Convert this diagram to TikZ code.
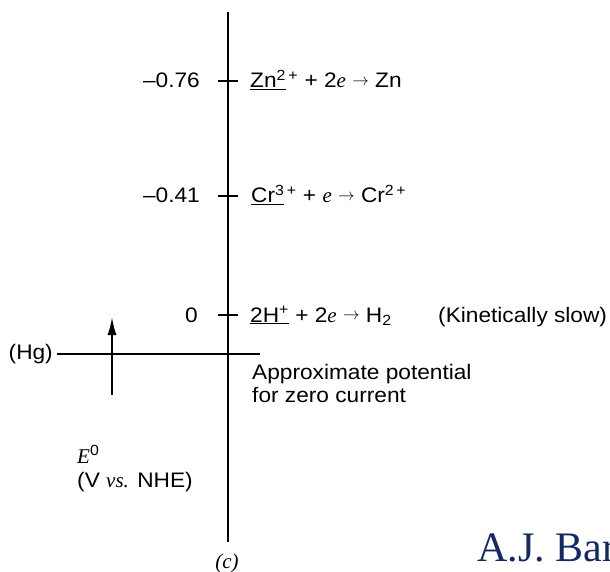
\documentclass[tikz,border=0pt]{standalone}
\usepackage{graphicx}
\usepackage{fontspec}
\setmainfont{Liberation Sans}[FakeStretch=1.08]
\newfontfamily\tms{Liberation Serif}
\usetikzlibrary{arrows.meta}
\definecolor{navy}{RGB}{20,40,100}
\newcommand\rarr{\raisebox{0.2ex}{\scalebox{0.8}{$\rightarrow$}}}
\newcommand\ital[1]{{\tms\itshape #1}}
\begin{document}
\begin{tikzpicture}[x=1pt,y=-1pt,
  lab/.style={inner sep=0pt, font=\fontsize{21}{25}\selectfont},
  axisline/.style={line width=2pt},
  tick/.style={line width=1.5pt}]
\useasboundingbox[fill=white] (0,0) rectangle (610,572);
% axis
\coordinate (top) at (228,12);
\coordinate (bot) at (228,542);
\draw[axisline] (top) -- (bot);
% ticks
\foreach \yy in {81,196,315} \draw[tick] (218,\yy) -- (238,\yy);
% value labels
\node[lab, anchor=base east] (v1) at (200,88) {–0.76};
\node[lab, anchor=base east] (v2) at (200,203) {–0.41};
\node[lab, anchor=base east] (v3) at (198,322) {0};
% reactions
\node[lab, anchor=base west] (r1) at (250,88) {\underline{Zn\textsuperscript{2}}\textsuperscript{\,+} + 2\ital{e} \rarr{} Zn};
\node[lab, anchor=base west] (r2) at (251,203) {\underline{Cr\textsuperscript{3}}\textsuperscript{\,+} + \ital{e} \rarr{} Cr\textsuperscript{2\,+}};
\node[lab, anchor=base west] (r3) at (250,322) {\underline{2H\textsuperscript{+}} + 2\ital{e} \rarr{} H\textsubscript{2}};
\node[lab, anchor=base west] (ks) at (438,322) {(Kinetically slow)};
% Hg line
\node[lab, anchor=east] (hg) at (53,354) {(Hg)};
\coordinate (hgend) at (260,354);
\draw[axisline] ([xshift=4pt]hg.east) -- (hgend);
% arrow
\coordinate (arrlo) at (112,395);
\coordinate (arrhi) at (112,317);
\draw[axisline, -{Latex[length=18pt,width=9pt]}] (arrlo) -- (arrhi);
% approximate potential
\node[lab, anchor=base west] (ap1) at (252,379) {Approximate potential};
\node[lab, anchor=base west] (ap2) at (252,402) {for zero current};
% E0
\node[lab, anchor=base west] (e0) at (77,463) {\ital{E}\textsuperscript{0}};
\node[lab, anchor=base west] (vs) at (77,487) {(V \ital{vs.} NHE)};
% (c)
\node[lab, anchor=base] (c) at (227,568) {\ital{(c)}};
% author
\node[inner sep=0pt, anchor=base west, text=navy, font=\tms\fontsize{42}{46}\selectfont] (aj) at (477,561) {A.J. Bar};
\end{tikzpicture}
\end{document}
